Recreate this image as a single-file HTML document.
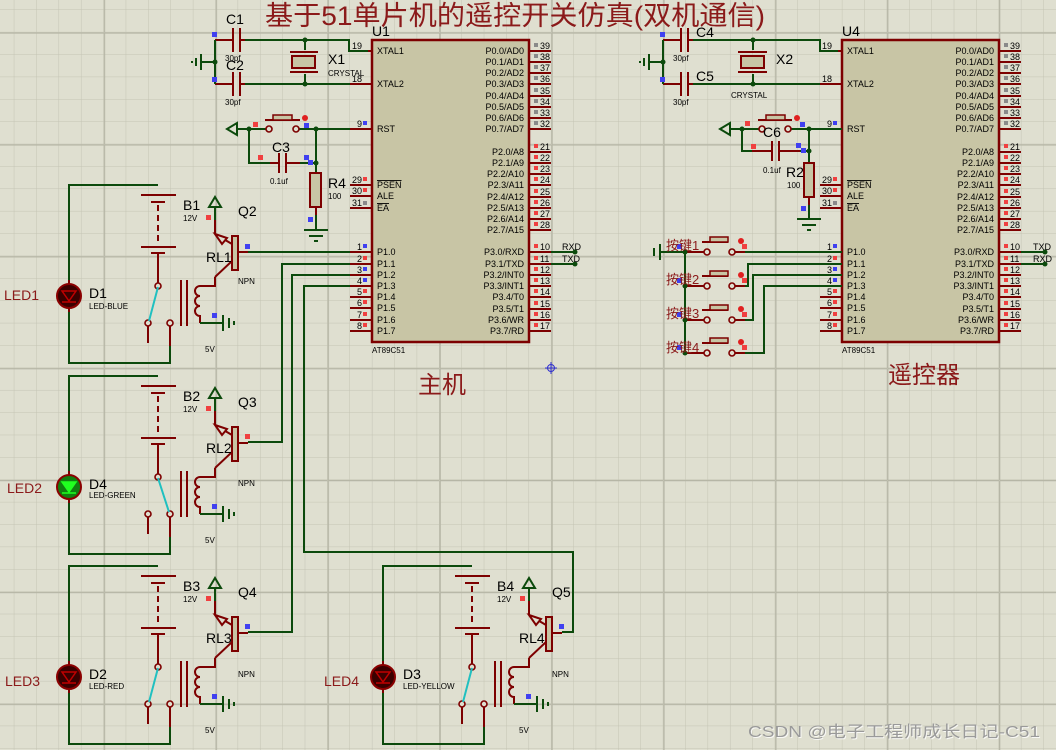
<!DOCTYPE html>
<html><head><meta charset="utf-8"><style>
html,body{margin:0;padding:0;background:#dfdfd0;}
svg{display:block;font-family:"Liberation Sans","Noto Sans CJK SC",sans-serif;}
.w{stroke:#0c4a0c;stroke-width:2;fill:none}
.r{stroke:#7d0000;stroke-width:2;fill:none}
.t{font-size:9px;fill:#000}
.s{font-size:8px;fill:#000}
.m{font-size:14px;fill:#000}
.lb{fill:#8b1a1a}
</style></head><body>
<svg width="1056" height="750" viewBox="0 0 1056 750" xmlns="http://www.w3.org/2000/svg">
<defs>
<pattern id="g1" x="14.3" y="10" width="22.38" height="22.38" patternUnits="userSpaceOnUse">
<path d="M22.38 0V22.38M0 22.38H22.38" stroke="#c4c4b4" stroke-width="1" fill="none"/>
</pattern>
<pattern id="g2" x="103.8" y="32.4" width="111.9" height="111.9" patternUnits="userSpaceOnUse">
<path d="M0 0V111.9M0 0H111.9" stroke="#b6b6a6" stroke-width="1.6" fill="none" transform="translate(0.5,0.5)"/>
</pattern>
<g id="rb">
<polyline class="w" points="158,185 69,185 69,282"/>
<polyline class="w" points="69,310 69,363 170,363 170,345"/>
<line class="r" x1="69" y1="280" x2="69" y2="312"/>
<line class="r" x1="141" y1="195" x2="176" y2="195"/>
<line class="r" x1="151" y1="202" x2="165" y2="202"/>
<line class="r" x1="158" y1="205" x2="158" y2="241" stroke-dasharray="6,4"/>
<line class="r" x1="141" y1="247" x2="176" y2="247"/>
<line class="r" x1="151" y1="253" x2="165" y2="253"/>
<line class="r" x1="158" y1="253" x2="158" y2="283"/>
<line class="r" x1="148" y1="326" x2="148" y2="343"/>
<line class="r" x1="170" y1="326" x2="170" y2="346"/>
<line class="r" x1="181" y1="280" x2="181" y2="326"/>
<line class="r" x1="187" y1="280" x2="187" y2="326"/>
<path class="r" d="M215,277 V286 H200 a5,5 0 0 0 0,10 a5,5 0 0 0 0,10 a5,5 0 0 0 0,10 V323"/>
<line class="r" x1="215" y1="277" x2="232" y2="261"/>
<line class="r" x1="215" y1="220" x2="215" y2="234"/>
<line class="r" x1="215" y1="234" x2="232" y2="244"/>
<polygon points="215,234 227,238 222,244" fill="#dfdfd0" stroke="#7d0000" stroke-width="2"/>
<line class="w" x1="215" y1="220" x2="215" y2="206"/>
<polygon points="209,207 215,197 221,207" fill="none" stroke="#0c4a0c" stroke-width="2"/>
<rect x="232" y="236" width="6" height="34" fill="#c8c4a4" stroke="#7d0000" stroke-width="2"/>
<line class="r" x1="238" y1="252" x2="248" y2="252"/>
<polyline class="w" points="200,323 222,323"/>
<line class="w" x1="223" y1="315" x2="223" y2="331" stroke-width="2.5"/>
<line class="w" x1="229" y1="318" x2="229" y2="328"/>
<line class="w" x1="234" y1="321" x2="234" y2="325"/>
<circle cx="158" cy="286" r="3" fill="#dfdfd0" stroke="#7d0000" stroke-width="1.6"/>
<circle cx="148" cy="323" r="3" fill="#dfdfd0" stroke="#7d0000" stroke-width="1.6"/>
<circle cx="170" cy="323" r="3" fill="#dfdfd0" stroke="#7d0000" stroke-width="1.6"/>
<rect x="206" y="215" width="5" height="5" fill="#f04040"/>
<rect x="212" y="313" width="5" height="5" fill="#4040f0"/>
</g>
<g id="chip">
<rect x="372" y="40" width="157" height="302" fill="#c8c5a5" stroke="#7d0000" stroke-width="2.5"/>
<path class="r" d="M350 51H372M350 84H372M350 129H372M350 185H372M350 196H372M350 208H372M350 252H372M350 264H372M350 275H372M350 286H372M350 297H372M350 308H372M350 320H372M350 331H372"/>
<path class="r" d="M529 51H551M529 62H551M529 73H551M529 84H551M529 96H551M529 107H551M529 118H551M529 129H551M529 152H551M529 163H551M529 174H551M529 185H551M529 197H551M529 208H551M529 219H551M529 230H551M529 252H551M529 264H551M529 275H551M529 286H551M529 297H551M529 309H551M529 320H551M529 331H551"/>
<g fill="#8a8a8a"><rect x="534" y="43" width="4" height="4"/><rect x="534" y="54" width="4" height="4"/><rect x="534" y="65" width="4" height="4"/><rect x="534" y="76" width="4" height="4"/><rect x="534" y="88" width="4" height="4"/><rect x="534" y="99" width="4" height="4"/><rect x="534" y="110" width="4" height="4"/><rect x="534" y="121" width="4" height="4"/><rect x="363" y="201" width="4" height="4"/></g>
<g fill="#f04040"><rect x="534" y="144" width="4" height="4"/><rect x="534" y="155" width="4" height="4"/><rect x="534" y="166" width="4" height="4"/><rect x="534" y="177" width="4" height="4"/><rect x="534" y="189" width="4" height="4"/><rect x="534" y="200" width="4" height="4"/><rect x="534" y="211" width="4" height="4"/><rect x="534" y="222" width="4" height="4"/><rect x="534" y="244" width="4" height="4"/><rect x="534" y="256" width="4" height="4"/><rect x="534" y="267" width="4" height="4"/><rect x="534" y="278" width="4" height="4"/><rect x="534" y="289" width="4" height="4"/><rect x="534" y="301" width="4" height="4"/><rect x="534" y="312" width="4" height="4"/><rect x="534" y="323" width="4" height="4"/><rect x="363" y="177" width="4" height="4"/><rect x="363" y="188" width="4" height="4"/><rect x="363" y="256" width="4" height="4"/><rect x="363" y="289" width="4" height="4"/><rect x="363" y="300" width="4" height="4"/><rect x="363" y="312" width="4" height="4"/><rect x="363" y="323" width="4" height="4"/></g>
<g fill="#4040f0"><rect x="363" y="121" width="4" height="4"/><rect x="363" y="244" width="4" height="4"/><rect x="363" y="267" width="4" height="4"/><rect x="363" y="278" width="4" height="4"/></g>
</g>
</defs>
<rect width="1056" height="750" fill="#dfdfd0"/>
<rect width="1056" height="750" fill="url(#g1)"/>
<rect width="1056" height="750" fill="url(#g2)"/>

<text x="265" y="25" font-size="27" class="lb" textLength="500" lengthAdjust="spacingAndGlyphs">基于51单片机的遥控开关仿真(双机通信)</text>

<use href="#chip"/>
<use href="#chip" transform="translate(470,0)"/>

<text x="372" y="36" class="m">U1</text>
<text x="372" y="353" class="s">AT89C51</text>
<text x="842" y="36" class="m">U4</text>
<text x="842" y="353" class="s">AT89C51</text>

<g class="t">
<text x="377" y="54">XTAL1</text><text x="377" y="87">XTAL2</text><text x="377" y="132">RST</text>
<text x="377" y="188" text-decoration="overline">PSEN</text><text x="377" y="199">ALE</text><text x="377" y="211" text-decoration="overline">EA</text>
<text x="377" y="255">P1.0</text><text x="377" y="267">P1.1</text><text x="377" y="278">P1.2</text><text x="377" y="289">P1.3</text><text x="377" y="300">P1.4</text><text x="377" y="311">P1.5</text><text x="377" y="323">P1.6</text><text x="377" y="334">P1.7</text>
<g text-anchor="end">
<text x="524" y="54">P0.0/AD0</text><text x="524" y="65">P0.1/AD1</text><text x="524" y="76">P0.2/AD2</text><text x="524" y="87">P0.3/AD3</text><text x="524" y="99">P0.4/AD4</text><text x="524" y="110">P0.5/AD5</text><text x="524" y="121">P0.6/AD6</text><text x="524" y="132">P0.7/AD7</text>
<text x="524" y="155">P2.0/A8</text><text x="524" y="166">P2.1/A9</text><text x="524" y="177">P2.2/A10</text><text x="524" y="188">P2.3/A11</text><text x="524" y="200">P2.4/A12</text><text x="524" y="211">P2.5/A13</text><text x="524" y="222">P2.6/A14</text><text x="524" y="233">P2.7/A15</text>
<text x="524" y="255">P3.0/RXD</text><text x="524" y="267">P3.1/TXD</text><text x="524" y="278">P3.2/INT0</text><text x="524" y="289">P3.3/INT1</text><text x="524" y="300">P3.4/T0</text><text x="524" y="312">P3.5/T1</text><text x="524" y="323">P3.6/WR</text><text x="524" y="334">P3.7/RD</text>
<text x="362" y="49">19</text><text x="362" y="82">18</text><text x="362" y="127">9</text><text x="362" y="183">29</text><text x="362" y="194">30</text><text x="362" y="206">31</text>
<text x="362" y="250">1</text><text x="362" y="262">2</text><text x="362" y="273">3</text><text x="362" y="284">4</text><text x="362" y="295">5</text><text x="362" y="306">6</text><text x="362" y="318">7</text><text x="362" y="329">8</text>
</g>
<text x="540" y="49">39</text><text x="540" y="60">38</text><text x="540" y="71">37</text><text x="540" y="82">36</text><text x="540" y="94">35</text><text x="540" y="105">34</text><text x="540" y="116">33</text><text x="540" y="127">32</text>
<text x="540" y="150">21</text><text x="540" y="161">22</text><text x="540" y="172">23</text><text x="540" y="183">24</text><text x="540" y="195">25</text><text x="540" y="206">26</text><text x="540" y="217">27</text><text x="540" y="228">28</text>
<text x="540" y="250">10</text><text x="540" y="262">11</text><text x="540" y="273">12</text><text x="540" y="284">13</text><text x="540" y="295">14</text><text x="540" y="307">15</text><text x="540" y="318">16</text><text x="540" y="329">17</text>
</g>
<g class="t" transform="translate(470,0)">
<text x="377" y="54">XTAL1</text><text x="377" y="87">XTAL2</text><text x="377" y="132">RST</text>
<text x="377" y="188" text-decoration="overline">PSEN</text><text x="377" y="199">ALE</text><text x="377" y="211" text-decoration="overline">EA</text>
<text x="377" y="255">P1.0</text><text x="377" y="267">P1.1</text><text x="377" y="278">P1.2</text><text x="377" y="289">P1.3</text><text x="377" y="300">P1.4</text><text x="377" y="311">P1.5</text><text x="377" y="323">P1.6</text><text x="377" y="334">P1.7</text>
<g text-anchor="end">
<text x="524" y="54">P0.0/AD0</text><text x="524" y="65">P0.1/AD1</text><text x="524" y="76">P0.2/AD2</text><text x="524" y="87">P0.3/AD3</text><text x="524" y="99">P0.4/AD4</text><text x="524" y="110">P0.5/AD5</text><text x="524" y="121">P0.6/AD6</text><text x="524" y="132">P0.7/AD7</text>
<text x="524" y="155">P2.0/A8</text><text x="524" y="166">P2.1/A9</text><text x="524" y="177">P2.2/A10</text><text x="524" y="188">P2.3/A11</text><text x="524" y="200">P2.4/A12</text><text x="524" y="211">P2.5/A13</text><text x="524" y="222">P2.6/A14</text><text x="524" y="233">P2.7/A15</text>
<text x="524" y="255">P3.0/RXD</text><text x="524" y="267">P3.1/TXD</text><text x="524" y="278">P3.2/INT0</text><text x="524" y="289">P3.3/INT1</text><text x="524" y="300">P3.4/T0</text><text x="524" y="312">P3.5/T1</text><text x="524" y="323">P3.6/WR</text><text x="524" y="334">P3.7/RD</text>
<text x="362" y="49">19</text><text x="362" y="82">18</text><text x="362" y="127">9</text><text x="362" y="183">29</text><text x="362" y="194">30</text><text x="362" y="206">31</text>
<text x="362" y="250">1</text><text x="362" y="262">2</text><text x="362" y="273">3</text><text x="362" y="284">4</text><text x="362" y="295">5</text><text x="362" y="306">6</text><text x="362" y="318">7</text><text x="362" y="329">8</text>
</g>
<text x="540" y="49">39</text><text x="540" y="60">38</text><text x="540" y="71">37</text><text x="540" y="82">36</text><text x="540" y="94">35</text><text x="540" y="105">34</text><text x="540" y="116">33</text><text x="540" y="127">32</text>
<text x="540" y="150">21</text><text x="540" y="161">22</text><text x="540" y="172">23</text><text x="540" y="183">24</text><text x="540" y="195">25</text><text x="540" y="206">26</text><text x="540" y="217">27</text><text x="540" y="228">28</text>
<text x="540" y="250">10</text><text x="540" y="262">11</text><text x="540" y="273">12</text><text x="540" y="284">13</text><text x="540" y="295">14</text><text x="540" y="307">15</text><text x="540" y="318">16</text><text x="540" y="329">17</text>
</g>

<polyline class="w" points="551,252 576,252"/><polyline class="w" points="551,264 576,264"/>
<circle cx="575" cy="252" r="2.5" fill="#0c4a0c"/><circle cx="575" cy="264" r="2.5" fill="#0c4a0c"/>
<text x="562" y="250" class="t">RXD</text><text x="562" y="262" class="t">TXD</text>
<polyline class="w" points="1021,252 1046,252"/><polyline class="w" points="1021,264 1046,264"/>
<circle cx="1045" cy="252" r="2.5" fill="#0c4a0c"/><circle cx="1045" cy="264" r="2.5" fill="#0c4a0c"/>
<text x="1033" y="250" class="t">TXD</text><text x="1033" y="262" class="t">RXD</text>

<polyline class="w" points="245,40 349,40 349,51 368,51"/>
<polyline class="w" points="245,84 350,84"/>
<path class="r" d="M215,40 H233 M240,40 H245 M233,28 V52 M240,28 V52 M215,84 H233 M240,84 H245 M233,72 V96 M240,72 V96"/>
<polyline class="w" points="215,40 215,84"/><line class="w" x1="200" y1="62" x2="215" y2="62"/>
<line class="w" x1="201" y1="54" x2="201" y2="70" stroke-width="2.5"/><line class="w" x1="196" y1="58" x2="196" y2="66"/><line class="w" x1="192" y1="61" x2="192" y2="63"/>
<circle cx="215" cy="62" r="2.5" fill="#0c4a0c"/>
<rect x="212" y="32" width="5" height="5" fill="#4040f0"/><rect x="212" y="77" width="5" height="5" fill="#4040f0"/>
<line class="w" x1="305" y1="40" x2="305" y2="50"/><line class="w" x1="305" y1="74" x2="305" y2="84"/>
<line class="r" x1="290" y1="52" x2="318" y2="52"/><line class="r" x1="290" y1="72" x2="318" y2="72"/>
<rect x="292" y="56" width="23" height="12" fill="#c8c5a5" stroke="#7d0000" stroke-width="2"/>
<circle cx="305" cy="40" r="2.5" fill="#0c4a0c"/><circle cx="305" cy="84" r="2.5" fill="#0c4a0c"/>
<text x="226" y="24" class="m">C1</text><text x="226" y="70" class="m">C2</text>
<text x="225" y="61" class="s">30pf</text><text x="225" y="105" class="s">30pf</text>
<text x="328" y="64" class="m">X1</text><text x="328" y="76" class="s">CRYSTAL</text>

<polyline class="w" points="236,129 266,129"/><polyline class="w" points="299,129 350,129"/>
<polygon points="227,129 237,123 237,135" fill="none" stroke="#0c4a0c" stroke-width="2"/>
<circle cx="269" cy="129" r="3" fill="#dfdfd0" stroke="#7d0000" stroke-width="1.6"/><circle cx="296" cy="129" r="3" fill="#dfdfd0" stroke="#7d0000" stroke-width="1.6"/>
<line class="r" x1="265" y1="120" x2="300" y2="120"/><rect x="273" y="115" width="19" height="5" fill="#c8c5a5" stroke="#7d0000" stroke-width="1.5"/>
<circle cx="305" cy="118" r="3" fill="#e02020"/>
<polyline class="w" points="249,129 249,163 270,163"/>
<path class="r" d="M270,163 H279 M286,163 H300 M279,153 V173 M286,153 V173"/>
<polyline class="w" points="300,163 316,163"/>
<polyline class="w" points="316,129 316,173"/>
<rect x="310" y="173" width="11" height="34" fill="#c8c5a5" stroke="#7d0000" stroke-width="2"/>
<line class="r" x1="316" y1="207" x2="316" y2="215"/><line class="w" x1="316" y1="215" x2="316" y2="230"/>
<line class="w" x1="304" y1="230" x2="328" y2="230" stroke-width="2.5"/><line class="w" x1="309" y1="236" x2="323" y2="236"/><line class="w" x1="314" y1="241" x2="318" y2="241"/>
<circle cx="249" cy="129" r="2.5" fill="#0c4a0c"/><circle cx="316" cy="129" r="2.5" fill="#0c4a0c"/><circle cx="316" cy="163" r="2.5" fill="#0c4a0c"/>
<rect x="253" y="122" width="5" height="5" fill="#f04040"/><rect x="304" y="123" width="5" height="5" fill="#4040f0"/>
<rect x="258" y="155" width="5" height="5" fill="#f04040"/><rect x="304" y="155" width="5" height="5" fill="#4040f0"/><rect x="308" y="160" width="5" height="5" fill="#4040f0"/><rect x="308" y="217" width="5" height="5" fill="#4040f0"/>
<text x="272" y="152" class="m">C3</text><text x="270" y="184" class="s">0.1uf</text>
<text x="328" y="188" class="m">R4</text><text x="328" y="199" class="s">100</text>

<polyline class="w" points="693,40 820,40 820,51 838,51"/>
<polyline class="w" points="693,84 820,84"/>
<path class="r" d="M663,40 H681 M688,40 H693 M681,28 V52 M688,28 V52 M663,84 H681 M688,84 H693 M681,72 V96 M688,72 V96 M820,84 H842"/>
<polyline class="w" points="663,40 663,84"/><line class="w" x1="648" y1="62" x2="663" y2="62"/>
<line class="w" x1="649" y1="54" x2="649" y2="70" stroke-width="2.5"/><line class="w" x1="644" y1="58" x2="644" y2="66"/><line class="w" x1="640" y1="61" x2="640" y2="63"/>
<circle cx="663" cy="62" r="2.5" fill="#0c4a0c"/>
<rect x="660" y="32" width="5" height="5" fill="#4040f0"/><rect x="660" y="77" width="5" height="5" fill="#4040f0"/>
<line class="w" x1="753" y1="40" x2="753" y2="50"/><line class="w" x1="753" y1="74" x2="753" y2="84"/>
<line class="r" x1="738" y1="52" x2="767" y2="52"/><line class="r" x1="738" y1="72" x2="767" y2="72"/>
<rect x="741" y="56" width="23" height="12" fill="#c8c5a5" stroke="#7d0000" stroke-width="2"/>
<circle cx="753" cy="40" r="2.5" fill="#0c4a0c"/><circle cx="753" cy="84" r="2.5" fill="#0c4a0c"/>
<text x="696" y="37" class="m">C4</text><text x="696" y="81" class="m">C5</text>
<text x="673" y="61" class="s">30pf</text><text x="673" y="105" class="s">30pf</text>
<text x="776" y="64" class="m">X2</text><text x="731" y="98" class="s">CRYSTAL</text>

<polyline class="w" points="729,129 759,129"/><polyline class="w" points="791,129 842,129"/>
<polygon points="720,129 730,123 730,135" fill="none" stroke="#0c4a0c" stroke-width="2"/>
<circle cx="762" cy="129" r="3" fill="#dfdfd0" stroke="#7d0000" stroke-width="1.6"/><circle cx="788" cy="129" r="3" fill="#dfdfd0" stroke="#7d0000" stroke-width="1.6"/>
<line class="r" x1="758" y1="120" x2="792" y2="120"/><rect x="766" y="115" width="19" height="5" fill="#c8c5a5" stroke="#7d0000" stroke-width="1.5"/>
<circle cx="797" cy="118" r="3" fill="#e02020"/>
<polyline class="w" points="742,129 742,151 763,151"/>
<path class="r" d="M752,151 H772 M779,151 H800 M772,141 V161 M779,141 V161"/>
<polyline class="w" points="800,151 809,151"/>
<polyline class="w" points="809,129 809,163"/>
<rect x="804" y="163" width="10" height="34" fill="#c8c5a5" stroke="#7d0000" stroke-width="2"/>
<line class="r" x1="809" y1="197" x2="809" y2="205"/><line class="w" x1="809" y1="205" x2="809" y2="219"/>
<line class="w" x1="797" y1="219" x2="821" y2="219" stroke-width="2.5"/><line class="w" x1="802" y1="225" x2="816" y2="225"/><line class="w" x1="807" y1="230" x2="811" y2="230"/>
<circle cx="742" cy="129" r="2.5" fill="#0c4a0c"/><circle cx="809" cy="129" r="2.5" fill="#0c4a0c"/><circle cx="809" cy="151" r="2.5" fill="#0c4a0c"/>
<rect x="745" y="121" width="5" height="5" fill="#f04040"/><rect x="800" y="122" width="5" height="5" fill="#4040f0"/>
<rect x="751" y="144" width="5" height="5" fill="#f04040"/><rect x="796" y="143" width="5" height="5" fill="#4040f0"/><rect x="801" y="148" width="5" height="5" fill="#4040f0"/><rect x="801" y="206" width="5" height="5" fill="#4040f0"/>
<text x="763" y="137" class="m">C6</text><text x="763" y="173" class="s">0.1uf</text>
<text x="786" y="177" class="m">R2</text><text x="787" y="188" class="s">100</text>

<line class="w" x1="660" y1="252" x2="686" y2="252"/>
<line class="w" x1="660" y1="244" x2="660" y2="260" stroke-width="2.5"/><line class="w" x1="654" y1="248" x2="654" y2="256"/>
<polyline class="w" points="685,252 685,353"/>
<g id="btn">
<line class="r" x1="686" y1="252" x2="704" y2="252"/><line class="r" x1="735" y1="252" x2="745" y2="252"/>
<circle cx="707" cy="252" r="3" fill="#dfdfd0" stroke="#7d0000" stroke-width="1.6"/><circle cx="732" cy="252" r="3" fill="#dfdfd0" stroke="#7d0000" stroke-width="1.6"/>
<line class="r" x1="702" y1="242" x2="728" y2="242"/><rect x="710" y="237" width="18" height="5" fill="#c8c5a5" stroke="#7d0000" stroke-width="1.5"/>
<circle cx="741" cy="241" r="3" fill="#e02020"/><rect x="742" y="244" width="5" height="5" fill="#f04040"/>
<rect x="677" y="244" width="5" height="5" fill="#4040f0"/>
<circle cx="685" cy="252" r="2.5" fill="#0c4a0c"/>
</g>
<use href="#btn" transform="translate(0,34)"/><use href="#btn" transform="translate(0,68)"/><use href="#btn" transform="translate(0,101)"/>
<polyline class="w" points="745,252 842,252"/>
<polyline class="w" points="745,286 748,286 748,264 842,264"/>
<polyline class="w" points="745,320 753,320 753,275 842,275"/>
<polyline class="w" points="745,353 764,353 764,286 842,286"/>
<g font-size="13" class="lb"><text x="666" y="250">按键1</text><text x="666" y="284">按键2</text><text x="666" y="318">按键3</text><text x="666" y="352">按键4</text></g>

<use href="#rb"/>
<use href="#rb" transform="translate(0,191)"/>
<use href="#rb" transform="translate(0,381)"/>
<use href="#rb" transform="translate(314,381)"/>
<line x1="158" y1="287" x2="149" y2="321" stroke="#20c0c0" stroke-width="2"/>
<line x1="158" y1="478" x2="169" y2="512" stroke="#20c0c0" stroke-width="2"/>
<line x1="158" y1="668" x2="149" y2="702" stroke="#20c0c0" stroke-width="2"/>
<line x1="472" y1="668" x2="463" y2="702" stroke="#20c0c0" stroke-width="2"/>
<g id="ledr"><circle cx="69" cy="296" r="12" fill="#3a0000" stroke="#8a0000" stroke-width="2"/>
<polygon points="62,291 76,291 69,301" fill="none" stroke="#c00000" stroke-width="1.5"/><line x1="62" y1="302" x2="76" y2="302" stroke="#c00000" stroke-width="1.5"/></g>
<use href="#ledr" transform="translate(0,381)"/><use href="#ledr" transform="translate(314,381)"/>
<circle cx="69" cy="487" r="12" fill="#108010" stroke="#8a0000" stroke-width="2"/>
<polygon points="62,482 76,482 69,492" fill="#20ff20" stroke="#20ff20" stroke-width="1.5"/><line x1="62" y1="493" x2="76" y2="493" stroke="#20ff20" stroke-width="1.5"/>

<polyline class="w" points="248,252 350,252"/>
<polyline class="w" points="248,442 282,442 282,264 350,264"/>
<polyline class="w" points="248,632 292,632 292,275 350,275"/>
<polyline class="w" points="562,632 573,632 573,552 304,552 304,286 350,286"/>
<rect x="245" y="244" width="5" height="5" fill="#4040f0"/><rect x="245" y="434" width="5" height="5" fill="#f04040"/><rect x="245" y="624" width="5" height="5" fill="#4040f0"/><rect x="559" y="624" width="5" height="5" fill="#4040f0"/>

<g class="m">
<text x="183" y="210">B1</text><text x="238" y="216">Q2</text><text x="206" y="262">RL1</text><text x="89" y="298">D1</text>
<text x="183" y="401">B2</text><text x="238" y="407">Q3</text><text x="206" y="453">RL2</text><text x="89" y="489">D4</text>
<text x="183" y="591">B3</text><text x="238" y="597">Q4</text><text x="206" y="643">RL3</text><text x="89" y="679">D2</text>
<text x="497" y="591">B4</text><text x="552" y="597">Q5</text><text x="519" y="643">RL4</text><text x="403" y="679">D3</text>
</g>
<g class="s">
<text x="183" y="221">12V</text><text x="238" y="284">NPN</text><text x="205" y="352">5V</text><text x="89" y="309">LED-BLUE</text>
<text x="183" y="412">12V</text><text x="238" y="486">NPN</text><text x="205" y="543">5V</text><text x="89" y="498">LED-GREEN</text>
<text x="183" y="602">12V</text><text x="238" y="677">NPN</text><text x="205" y="733">5V</text><text x="89" y="689">LED-RED</text>
<text x="497" y="602">12V</text><text x="552" y="677">NPN</text><text x="519" y="733">5V</text><text x="403" y="689">LED-YELLOW</text>
</g>
<g font-size="14" class="lb">
<text x="4" y="300">LED1</text><text x="7" y="493">LED2</text><text x="5" y="686">LED3</text><text x="324" y="686">LED4</text>
</g>

<text x="418" y="393" font-size="24" class="lb">主机</text>
<text x="888" y="383" font-size="24" class="lb">遥控器</text>
<g stroke="#3030d0" stroke-width="1" fill="none"><circle cx="551" cy="368" r="3.5"/><line x1="545" y1="368" x2="557" y2="368"/><line x1="551" y1="362" x2="551" y2="374"/></g>

<text x="749" y="738" font-size="16" fill="#fff" opacity="0.8" textLength="292" lengthAdjust="spacingAndGlyphs">CSDN @电子工程师成长日记-C51</text>
<text x="748" y="737" font-size="16" fill="#9a9a9a" textLength="292" lengthAdjust="spacingAndGlyphs">CSDN @电子工程师成长日记-C51</text>
</svg>
</body></html>
